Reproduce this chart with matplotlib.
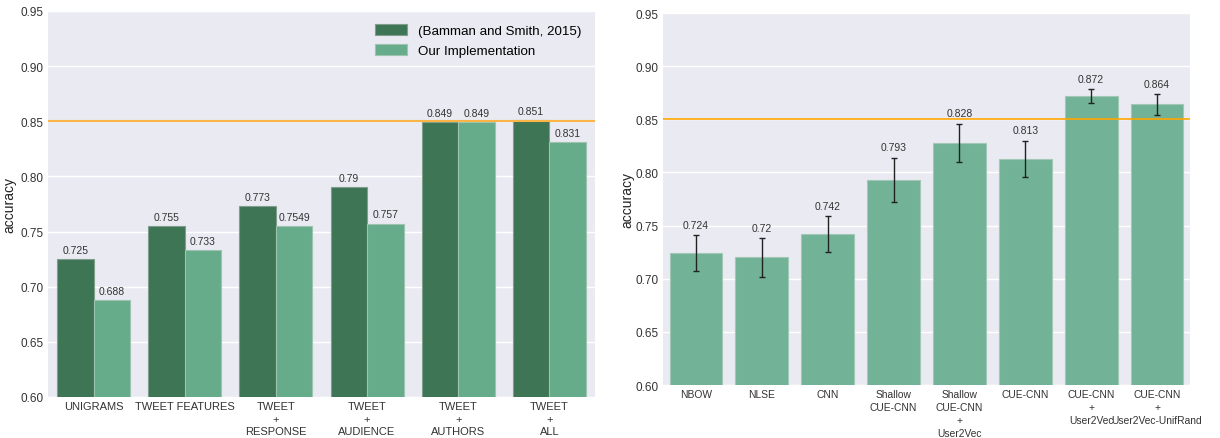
import matplotlib
matplotlib.use('Agg')
import matplotlib.pyplot as plt
import numpy as np

# left panel: feature-set comparison
feat_labels = ['UNIGRAMS', 'TWEET FEATURES', 'TWEET\n+\nRESPONSE', 'TWEET\n+\nAUDIENCE',
               'TWEET\n+\nAUTHORS', 'TWEET\n+\nALL']
bamman = [0.725, 0.755, 0.773, 0.79, 0.849, 0.851]
ours = [0.688, 0.733, 0.7549, 0.757, 0.849, 0.831]
bamman_txt = ['0.725', '0.755', '0.773', '0.79', '0.849', '0.851']
ours_txt = ['0.688', '0.733', '0.7549', '0.757', '0.849', '0.831']

# right panel: models with error bars
model_labels = ['NBOW', 'NLSE', 'CNN', 'Shallow\nCUE-CNN', 'Shallow\nCUE-CNN\n+\nUser2Vec',
                'CUE-CNN', 'CUE-CNN\n+\nUser2Vec', 'CUE-CNN\n+\nUser2Vec-UnifRand']
model_acc = [0.724, 0.72, 0.742, 0.793, 0.828, 0.813, 0.872, 0.864]
model_err = [0.017, 0.018, 0.017, 0.021, 0.018, 0.017, 0.0065, 0.0095]
model_txt = ['0.724', '0.72', '0.742', '0.793', '0.828', '0.813', '0.872', '0.864']

baseline = 0.85
yticks = [0.60, 0.65, 0.70, 0.75, 0.80, 0.85, 0.90, 0.95]

plt.rcParams['font.family'] = ['Liberation Sans', 'DejaVu Sans']

dark = '#3e7555'
light = '#66ab8a'
light2 = '#72b296'
bg = '#eaeaf2'
txt = '#333333'

fig = plt.figure(figsize=(12.2, 4.39), dpi=100)
ax1 = fig.add_axes([0.0393, 0.0934, 0.4484, 0.8793])
ax2 = fig.add_axes([0.5434, 0.1207, 0.4320, 0.8474])


def style(ax, labelpad):
    ax.set_facecolor(bg)
    ax.set_ylim(0.60, 0.95)
    ax.set_yticks(yticks)
    ax.set_yticklabels(['%.2f' % t for t in yticks])
    ax.grid(axis='y', color='white', linewidth=1)
    ax.set_axisbelow(True)
    for s in ax.spines.values():
        s.set_visible(False)
    ax.tick_params(length=0, labelsize=8.5, colors=txt, pad=3)
    ax.set_ylabel('accuracy', fontsize=10, labelpad=labelpad, color='#222222')


# grouped bars
x = np.arange(len(feat_labels))
w = 0.4
style(ax1, 3)
ax1.bar(x - w / 2, bamman, w, color=dark, edgecolor='#7f9f8c', linewidth=0.8,
        label='(Bamman and Smith, 2015)')
ax1.bar(x + w / 2, ours, w, color=light, edgecolor='#9cc4b0', linewidth=0.8,
        label='Our Implementation')
for xi, v, t in zip(x - w / 2, bamman, bamman_txt):
    ax1.text(xi, v + 0.004, t, ha='center', va='bottom', fontsize=7.5, color=txt)
for xi, v, t in zip(x + w / 2, ours, ours_txt):
    ax1.text(xi, v + 0.004, t, ha='center', va='bottom', fontsize=7.5, color=txt)
ax1.axhline(baseline, color='#fbb546', linewidth=1.5)
ax1.set_xticks(x)
ax1.set_xticklabels(feat_labels, fontsize=8, linespacing=1.3)
ax1.set_xlim(-0.5, len(feat_labels) - 0.5)
ax1.legend(loc='upper right', frameon=False, fontsize=9.6, handlelength=2.4,
           handleheight=0.9, borderaxespad=0.6, labelspacing=0.5, handletextpad=0.8)

# single bars with error bars
x2 = np.arange(len(model_labels))
style(ax2, 1)
ax2.bar(x2, model_acc, 0.8, color=light2, edgecolor='#a0c8b4', linewidth=0.8,
        yerr=model_err, capsize=2,
        error_kw=dict(ecolor='#222222', elinewidth=1, capthick=1))
for xi, v, e, t in zip(x2, model_acc, model_err, model_txt):
    ax2.text(xi, v + e + 0.005, t, ha='center', va='bottom', fontsize=7.5, color=txt)
ax2.axhline(baseline, color='#ffa500', linewidth=1.2)
ax2.set_xticks(x2)
ax2.set_xticklabels(model_labels, fontsize=7.4, linespacing=1.35)
ax2.set_xlim(-0.5, len(model_labels) - 0.5)

fig.savefig('out.png', dpi=100)
